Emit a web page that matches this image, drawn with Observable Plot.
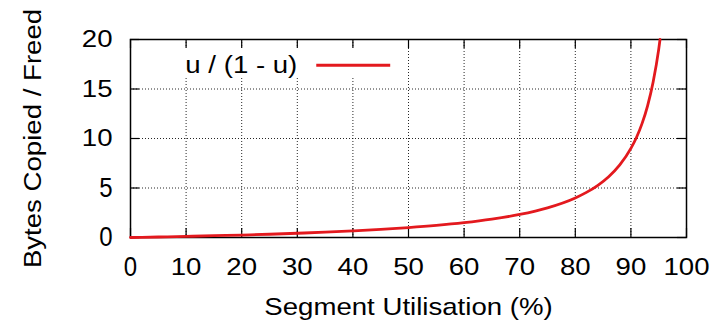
<!DOCTYPE html>
<html>
<head>
<meta charset="utf-8">
<script src="https://cdn.jsdelivr.net/npm/d3@7"></script>
<script src="https://cdn.jsdelivr.net/npm/@observablehq/plot@0.6"></script>
<style>
  html, body { margin: 0; padding: 0; background: #fff; }
  #chart { width: 722px; height: 321px; }
</style>
</head>
<body>
<div id="chart"></div>
<script>
// ---- data ----
const utilisation = [0, 5, 10, 15, 20, 25, 30, 35, 40, 45, 50, 55, 60, 65, 70, 75, 80, 82, 84, 86, 88, 90, 91, 92, 93, 94, 95, 95.24];
const ratio =       [0, 0.05, 0.11, 0.18, 0.25, 0.33, 0.43, 0.54, 0.67, 0.82, 1.0, 1.22, 1.5, 1.86, 2.33, 3.0, 4.0, 4.56, 5.25, 6.14, 7.33, 9.0, 10.1, 11.5, 13.3, 15.7, 19.0, 20.0];
const xTicks = [0, 10, 20, 30, 40, 50, 60, 70, 80, 90, 100];
const yTicks = [0, 5, 10, 15, 20];
const seriesName = "u / (1 - u)";
const xTitle = "Segment Utilisation (%)";
const yTitle = "Bytes Copied / Freed";

const points = utilisation.map((u, i) => ({u, r: ratio[i]}));

// ---- layout / style ----
const W = 722, H = 321;
const margin = {top: 39, right: 36, bottom: 84, left: 130};
const innerW = W - margin.left - margin.right;
const innerH = H - margin.top - margin.bottom;
const tickLen = 9;
const red = "#e3191e";
const legend = {x1: 4.5, x2: 48.6, y1: 16.2, y2: 19.3, textX: 30.0, lineX1: 33.5, lineX2: 46.8, y: 17.4};
const stretch = 1.15;

const chart = Plot.plot({
  width: W, height: H,
  marginTop: margin.top, marginRight: margin.right, marginBottom: margin.bottom, marginLeft: margin.left,
  style: {fontFamily: "'Liberation Sans', Arial, Helvetica, sans-serif", fontSize: "24px", color: "#000", background: "#fff"},
  x: {domain: [0, 100], ticks: xTicks},
  y: {domain: [0, 20], ticks: yTicks},
  marks: [
    Plot.gridX(xTicks, {stroke: "#000", strokeOpacity: 0.85, strokeDasharray: "1,2", strokeWidth: 1}),
    Plot.gridY(yTicks, {stroke: "#000", strokeOpacity: 0.85, strokeDasharray: "1,2", strokeWidth: 1}),
    Plot.rect([seriesName], {x1: () => legend.x1, x2: () => legend.x2, y1: () => legend.y1, y2: () => legend.y2, fill: "#fff"}),
    Plot.ruleX(xTicks, {stroke: "#000", strokeWidth: 1.2, insetTop: innerH - tickLen}),
    Plot.ruleX(xTicks, {stroke: "#000", strokeWidth: 1.2, insetBottom: innerH - tickLen}),
    Plot.ruleY(yTicks, {stroke: "#000", strokeWidth: 1.2, insetRight: innerW - tickLen}),
    Plot.ruleY(yTicks, {stroke: "#000", strokeWidth: 1.2, insetLeft: innerW - tickLen}),
    Plot.frame({stroke: "#000", strokeWidth: 1.5}),
    Plot.axisX(xTicks, {anchor: "bottom", tickSize: 0, tickPadding: 20, label: null}),
    Plot.axisY(yTicks, {anchor: "left", tickSize: 0, tickPadding: 18, label: null}),
    Plot.line(points, {x: "u", y: "r", stroke: red, strokeWidth: 2.8, curve: "monotone-x"}),
    Plot.text([seriesName], {x: () => legend.textX, y: () => legend.y, text: d => d, textAnchor: "end", lineAnchor: "middle", fill: "#000"}),
    Plot.ruleY([seriesName], {x1: () => legend.lineX1, x2: () => legend.lineX2, y: () => legend.y, stroke: red, strokeWidth: 2.8}),
    Plot.text([xTitle], {frameAnchor: "bottom", text: d => d, textAnchor: "middle", lineAnchor: "bottom", dy: 77.5, fill: "#000"}),
    Plot.text([yTitle], {frameAnchor: "left", text: d => d, textAnchor: "middle", lineAnchor: "bottom", rotate: -90, dx: -90, fill: "#000"})
  ]
});

document.getElementById("chart").appendChild(chart);

// widen glyphs along the text direction (reference font renders wider than Liberation Sans)
const NS = "http://www.w3.org/2000/svg";
Array.from(chart.querySelectorAll("text")).forEach(t => {
  const g = document.createElementNS(NS, "g");
  t.parentNode.insertBefore(g, t);
  g.appendChild(t);
  const bb = g.getBBox();
  if (!bb.width && !bb.height) return;
  const anchor = getComputedStyle(t).textAnchor;
  if (bb.height > bb.width * 1.5) {
    // rotated text (middle-anchored): stretch vertically about its centre
    const cy = bb.y + bb.height / 2;
    g.setAttribute("transform", `translate(0,${cy}) scale(1,${stretch}) translate(0,${-cy})`);
  } else {
    const ax = anchor === "end" ? bb.x + bb.width : anchor === "middle" ? bb.x + bb.width / 2 : bb.x;
    g.setAttribute("transform", `translate(${ax},0) scale(${stretch},1) translate(${-ax},0)`);
  }
});
</script>
</body>
</html>
